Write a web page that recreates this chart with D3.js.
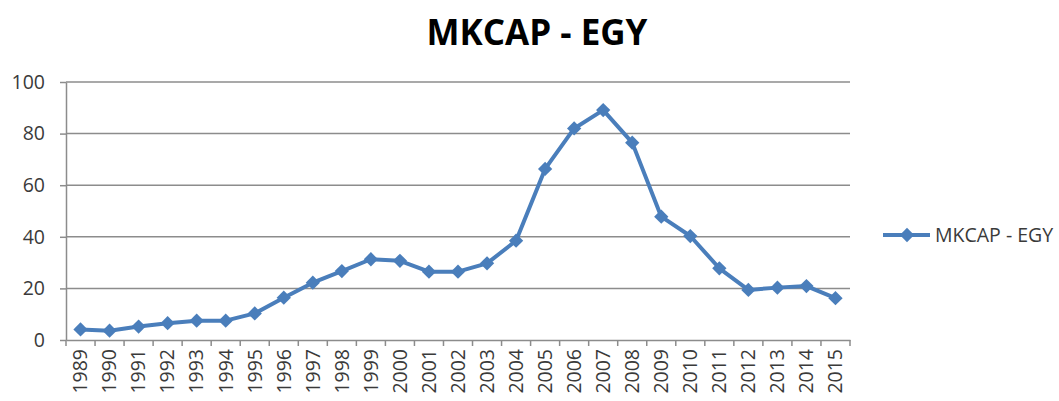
<!DOCTYPE html>
<html>
<head>
    <meta charset="utf-8">
    <title>MKCAP - EGY</title>
    <style>
        body {
            margin: 0;
            background-color: #fff;
        }
        svg text {
            font-family: "Open Sans", "Liberation Sans", sans-serif;
            fill: #3a3a3a;
        }
        .grid line, .axis path, .axis line {
            stroke: #8c8c8c;
            stroke-width: 1.5px;
        }
        .title {
            font-size: 35px;
            font-weight: bold;
            fill: #000;
            text-anchor: middle;
        }
        .series {
            fill: none;
            stroke: #4a7ebb;
            stroke-width: 4px;
            stroke-linejoin: round;
        }
        .marker { fill: #4a7ebb; }
    </style>
</head>
<body>
<svg id="chart" width="1059" height="401"></svg>
<script src="https://d3js.org/d3.v7.min.js"></script>
<script>
    // data
    let years = ["1989", "1990", "1991", "1992", "1993", "1994", "1995", "1996", "1997",
        "1998", "1999", "2000", "2001", "2002", "2003", "2004", "2005", "2006", "2007",
        "2008", "2009", "2010", "2011", "2012", "2013", "2014", "2015"];
    let mkcap = [4.1, 3.6, 5.2, 6.5, 7.5, 7.5, 10.3, 16.4, 22.2,
        26.7, 31.3, 30.7, 26.5, 26.5, 29.7, 38.5, 66.3, 82.0, 89.1,
        76.5, 47.8, 40.3, 27.8, 19.4, 20.3, 20.9, 16.2];
    let yTicks = [0, 20, 40, 60, 80, 100];
    let seriesName = "MKCAP - EGY";

    let svg = d3.select('svg#chart');
    let plotLeft = 66, plotRight = 850, plotTop = 82, plotBottom = 340;

    let x = d3.scaleBand().domain(years).range([plotLeft, plotRight]);
    let y = d3.scaleLinear().domain([0, 100]).range([plotBottom, plotTop]);

    svg.append('text').attr('class', 'title')
        .attr('x', 537).attr('y', 45).text(seriesName);

    // horizontal gridlines
    svg.append('g').attr('class', 'grid')
        .selectAll('line').data(yTicks.filter(d => d > 0)).join('line')
        .attr('x1', plotLeft).attr('x2', plotRight)
        .attr('y1', d => y(d)).attr('y2', d => y(d));

    // y axis
    let yAxis = svg.append('g').attr('class', 'axis')
        .attr('transform', `translate(${plotLeft},0)`)
        .call(d3.axisLeft(y).tickValues(yTicks).tickSize(6).tickSizeOuter(0));
    yAxis.selectAll('text').style('font-size', '19.5px').attr('x', -21);

    // x axis, ticks between categories
    let xAxis = svg.append('g').attr('class', 'axis')
        .attr('transform', `translate(0,${plotBottom})`)
        .call(d3.axisBottom(x).tickSize(0).tickSizeOuter(0));
    xAxis.selectAll('text')
        .style('font-size', '19.5px')
        .attr('transform', 'rotate(-90)')
        .attr('x', -9).attr('y', 0).attr('dy', '0.35em')
        .style('text-anchor', 'end');
    xAxis.selectAll('.sep').data(years.concat(['end'])).join('line')
        .attr('class', 'sep')
        .attr('x1', (d, i) => plotLeft + i * x.step())
        .attr('x2', (d, i) => plotLeft + i * x.step())
        .attr('y1', 0).attr('y2', 6);

    // the series
    let cx = d => x(d) + x.bandwidth() / 2;
    let line = d3.line().x((d, i) => cx(years[i])).y(d => y(d));
    svg.append('path').datum(mkcap).attr('class', 'series').attr('d', line);

    let diamond = d3.symbol().type(d3.symbolDiamond2).size(130);
    svg.append('g').selectAll('path').data(mkcap).join('path')
        .attr('class', 'marker')
        .attr('d', diamond)
        .attr('transform', (d, i) => `translate(${cx(years[i])},${y(d)})`);

    // legend
    let legend = svg.append('g').attr('transform', 'translate(883,235)');
    legend.append('line').attr('x1', 0).attr('x2', 47).attr('y1', 0).attr('y2', 0)
        .attr('stroke', '#4a7ebb').attr('stroke-width', 4);
    legend.append('path').attr('class', 'marker').attr('d', diamond)
        .attr('transform', 'translate(24,0)');
    legend.append('text').attr('x', 52).attr('y', 0).attr('dy', '0.35em')
        .style('font-size', '19.5px').text(seriesName);
</script>
</body>
</html>
